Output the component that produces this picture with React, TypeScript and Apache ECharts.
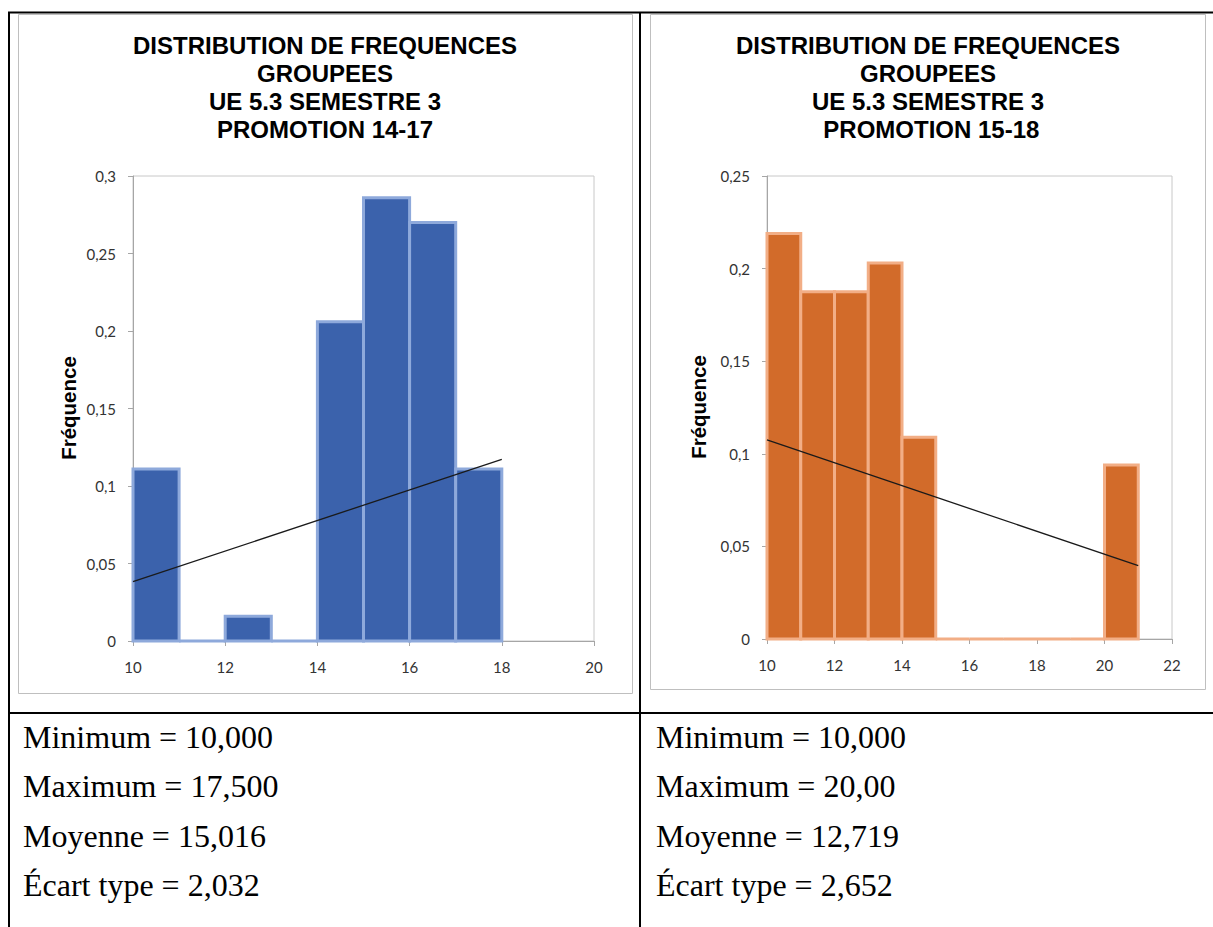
import React, { useEffect, useRef } from 'react';
import * as echarts from 'echarts';

// ---- Data: left chart (Promotion 14-17) ----
const binStartA = [10, 11, 12, 13, 14, 15, 16, 17];
const binEndA = [11, 12, 13, 14, 15, 16, 17, 18];
const freqA = [0.111, 0, 0.016, 0, 0.206, 0.286, 0.27, 0.111];
const trendXA = [10, 18];
const trendYA = [0.0383, 0.1172];
const titleA = ['DISTRIBUTION DE FREQUENCES', 'GROUPEES', 'UE 5.3 SEMESTRE 3', 'PROMOTION 14-17'];
const statsA = ['Minimum = 10,000', 'Maximum = 17,500', 'Moyenne = 15,016', 'Écart type = 2,032'];

// ---- Data: right chart (Promotion 15-18) ----
const binStartB = [10, 11, 12, 13, 14, 15, 16, 17, 18, 19, 20];
const binEndB = [11, 12, 13, 14, 15, 16, 17, 18, 19, 20, 21];
const freqB = [0.219, 0.1875, 0.1875, 0.203, 0.109, 0, 0, 0, 0, 0, 0.094];
const trendXB = [10, 21];
const trendYB = [0.1075, 0.0396];
const titleB = ['DISTRIBUTION DE FREQUENCES', 'GROUPEES', 'UE 5.3 SEMESTRE 3', ' PROMOTION 15-18'];
const statsB = ['Minimum = 10,000', 'Maximum = 20,00', 'Moyenne = 12,719', 'Écart type = 2,652'];

const yAxisName = 'Fréquence';

const LABEL_FONT = 'Lato, "Open Sans", sans-serif';
const TITLE_FONT = '"Liberation Sans", Arial, sans-serif';
const SERIF_FONT = '"Liberation Serif", "Times New Roman", serif';

function fmt(v: number) {
  if (v === 0) return '0';
  return String(+v.toFixed(3)).replace('.', ',');
}

function histSeries(starts: number[], ends: number[], freqs: number[], idx: number, fill: string, stroke: string) {
  return {
    type: 'custom',
    xAxisIndex: idx,
    yAxisIndex: idx,
    clip: false,
    z: 2,
    data: starts.map((s, i) => [s, ends[i], freqs[i]]),
    encode: { x: [0, 1], y: 2 },
    renderItem: (_params: any, api: any) => {
      const p0 = api.coord([api.value(0), api.value(2)]);
      const p1 = api.coord([api.value(1), 0]);
      return {
        type: 'rect',
        shape: { x: p0[0], y: p0[1], width: p1[0] - p0[0], height: p1[1] - p0[1] },
        style: { fill, stroke, lineWidth: 3 },
      };
    },
  };
}

function trendSeries(xs: number[], ys: number[], idx: number) {
  return {
    type: 'line',
    xAxisIndex: idx,
    yAxisIndex: idx,
    z: 5,
    symbol: 'none',
    silent: true,
    data: xs.map((x, i) => [x, ys[i]]),
    lineStyle: { color: '#1a1a1a', width: 1.3 },
  };
}

function xAxisDef(idx: number, max: number) {
  return {
    gridIndex: idx,
    type: 'value',
    min: 10,
    max,
    interval: 2,
    axisLine: { show: true, onZero: false, lineStyle: { color: '#A6A6A6', width: 1 } },
    axisTick: { show: true, length: 5, lineStyle: { color: '#A6A6A6' } },
    splitLine: { show: false },
    axisLabel: { margin: 18, color: '#333333', fontSize: 15, fontFamily: LABEL_FONT },
  };
}

function yAxisDef(idx: number, max: number) {
  return {
    gridIndex: idx,
    type: 'value',
    min: 0,
    max,
    interval: 0.05,
    axisLine: { show: true, lineStyle: { color: '#A6A6A6', width: 1 } },
    axisTick: { show: true, length: 5, lineStyle: { color: '#A6A6A6' } },
    splitLine: { show: false },
    axisLabel: { margin: 17, color: '#333333', fontSize: 15, fontFamily: LABEL_FONT, formatter: fmt },
  };
}

function statTexts(lines: string[], x: number) {
  const ys = [737, 786, 835.5, 885];
  return lines.map((t, i) => ({
    type: 'text',
    x,
    y: ys[i],
    style: {
      text: t,
      fill: '#000',
      fontSize: 32,
      fontFamily: SERIF_FONT,
      textAlign: 'left',
      textVerticalAlign: 'middle',
    },
  }));
}

function titleText(lines: string[], cx: number) {
  return {
    type: 'text',
    x: cx,
    y: 32,
    style: {
      text: lines.join('\n'),
      fill: '#000',
      fontSize: 24,
      fontWeight: 'bold',
      fontFamily: TITLE_FONT,
      lineHeight: 27.8,
      textAlign: 'center',
      textVerticalAlign: 'top',
    },
  };
}

function axisName(cx: number, cy: number) {
  return {
    type: 'text',
    x: cx,
    y: cy,
    rotation: Math.PI / 2,
    style: {
      text: yAxisName,
      fill: '#000',
      fontSize: 20.5,
      fontWeight: 'bold',
      fontFamily: TITLE_FONT,
      textAlign: 'center',
      textVerticalAlign: 'middle',
    },
  };
}

function line(x1: number, y1: number, x2: number, y2: number, color: string, w: number) {
  return { type: 'line', shape: { x1, y1, x2, y2 }, style: { stroke: color, lineWidth: w }, z: 10 };
}

export default function App() {
  const ref = useRef<HTMLDivElement>(null);
  useEffect(() => {
    if (!ref.current) return;
    const chart = echarts.init(ref.current, undefined, { renderer: 'svg' });
    const option: any = {
      animation: false,
      backgroundColor: '#ffffff',
      grid: [
        { left: 133, top: 176, width: 461, height: 465, show: true, borderColor: '#C8C8C8', borderWidth: 1, backgroundColor: 'transparent' },
        { left: 767, top: 176, width: 405, height: 463, show: true, borderColor: '#C8C8C8', borderWidth: 1, backgroundColor: 'transparent' },
      ],
      xAxis: [xAxisDef(0, 20), xAxisDef(1, 22)],
      yAxis: [yAxisDef(0, 0.3), yAxisDef(1, 0.25)],
      series: [
        histSeries(binStartA, binEndA, freqA, 0, '#3B62AC', '#8EA9DB'),
        trendSeries(trendXA, trendYA, 0),
        histSeries(binStartB, binEndB, freqB, 1, '#D26B2A', '#F2AE86'),
        trendSeries(trendXB, trendYB, 1),
      ],
      graphic: [
        { type: 'rect', shape: { x: 18.5, y: 14.5, width: 614, height: 679 }, style: { fill: 'none', stroke: '#BFBFBF', lineWidth: 1 }, z: 1 },
        { type: 'rect', shape: { x: 650.5, y: 14.5, width: 555, height: 675 }, style: { fill: 'none', stroke: '#BFBFBF', lineWidth: 1 }, z: 1 },
        line(8, 12.5, 1213, 12.5, '#000', 2),
        line(9, 12, 9, 927, '#000', 2),
        line(640, 12, 640, 927, '#000', 2),
        line(8, 713, 1213, 713, '#000', 2),
        titleText(titleA, 325),
        titleText(titleB, 928),
        axisName(68, 408),
        axisName(698, 407),
        ...statTexts(statsA, 23),
        ...statTexts(statsB, 656),
      ],
    };
    chart.setOption(option);
    return () => chart.dispose();
  }, []);
  return (
    <div
      ref={ref}
      style={{ position: 'absolute', left: 0, top: 0, width: 1213, height: 927, background: '#fff' }}
    />
  );
}
